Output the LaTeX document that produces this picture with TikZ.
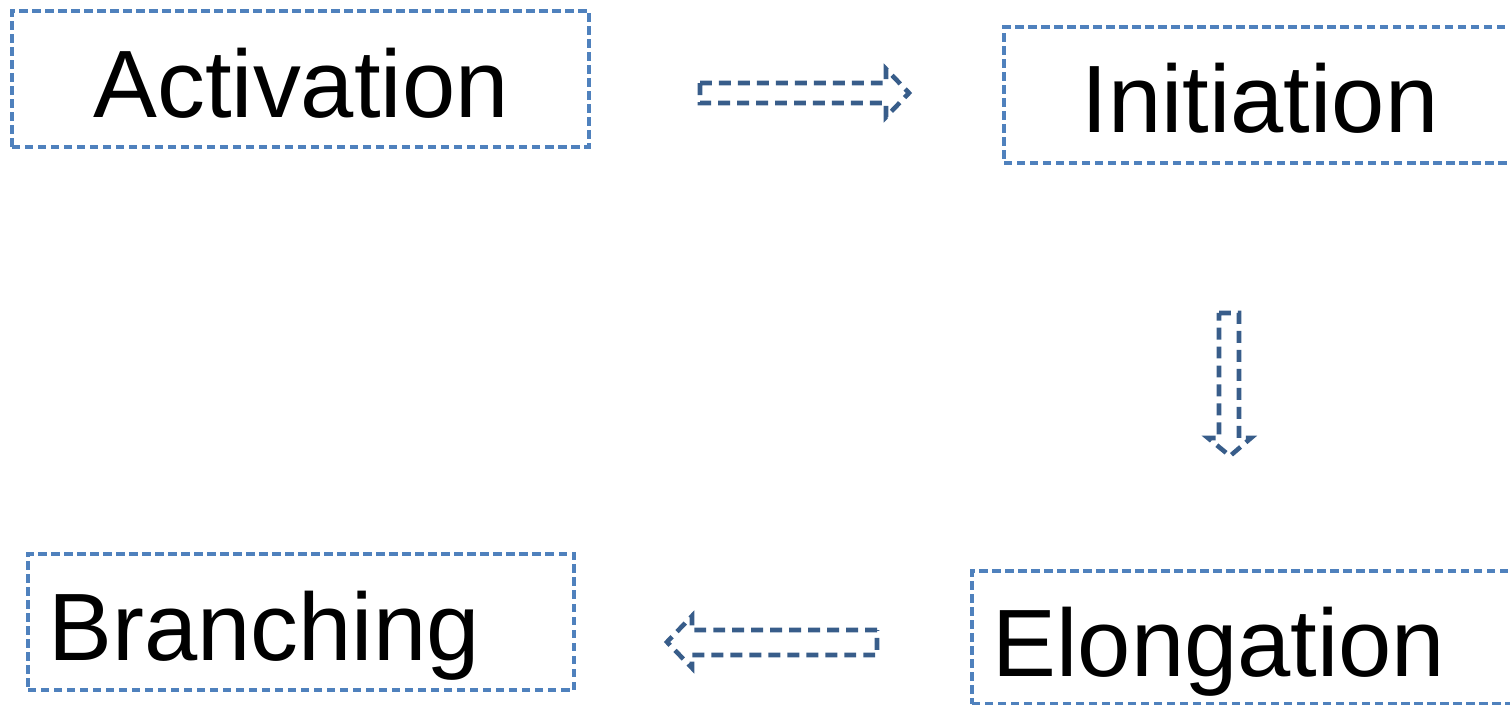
\documentclass[tikz,border=0pt]{standalone}
\usepackage{fontspec}
\setmainfont{Liberation Sans}
\usetikzlibrary{fit}
\definecolor{boxblue}{HTML}{4F81BD}
\definecolor{arrowblue}{HTML}{385D8A}
\begin{document}
\begin{tikzpicture}[x=0.02cm,y=-0.02cm,
  stagebox/.style={draw=boxblue, line width=2.1pt, dash pattern=on 4.8pt off 2.6pt, inner sep=0pt},
  stagelabel/.style={font=\fontsize{54.5}{60}\selectfont, inner sep=0pt, anchor=base},
  blockarrow/.style={draw=arrowblue, line width=2.6pt, dash pattern=on 6.8pt off 4pt, line join=miter}]
\useasboundingbox (0,0) rectangle (1510,705);

% stage boxes
\node[stagebox, fit={(12,11) (589,147)}] (act) {};
\node[stagebox, fit={(1004,27) (1518,163)}] (ini) {};
\node[stagebox, fit={(28,554) (574,690)}] (bra) {};
\node[stagebox, fit={(972,571) (1518,704)}] (elo) {};

% stage labels
\node[stagelabel] (actlabel) at (301,118) {Activation};
\node[stagelabel] (inilabel) at (1260,133) {Initiation};
\node[stagelabel] (bralabel) at (264,660) {Branching};
\node[stagelabel] (elolabel) at (1219,676) {Elongation};

% hollow block arrows between the stages
\draw[blockarrow] (700,83) -- (886,83) -- (886,69) -- (909,93) -- (886,117) -- (886,103) -- (700,103) -- cycle;
\draw[blockarrow] (1219,313) -- (1239,313) -- (1239,438) -- (1251,438) -- (1230,456) -- (1208,438) -- (1219,438) -- cycle;
\draw[blockarrow] (877,630) -- (692,630) -- (692,616) -- (667,642) -- (692,668) -- (692,655) -- (877,655) -- cycle;
\end{tikzpicture}
\end{document}
